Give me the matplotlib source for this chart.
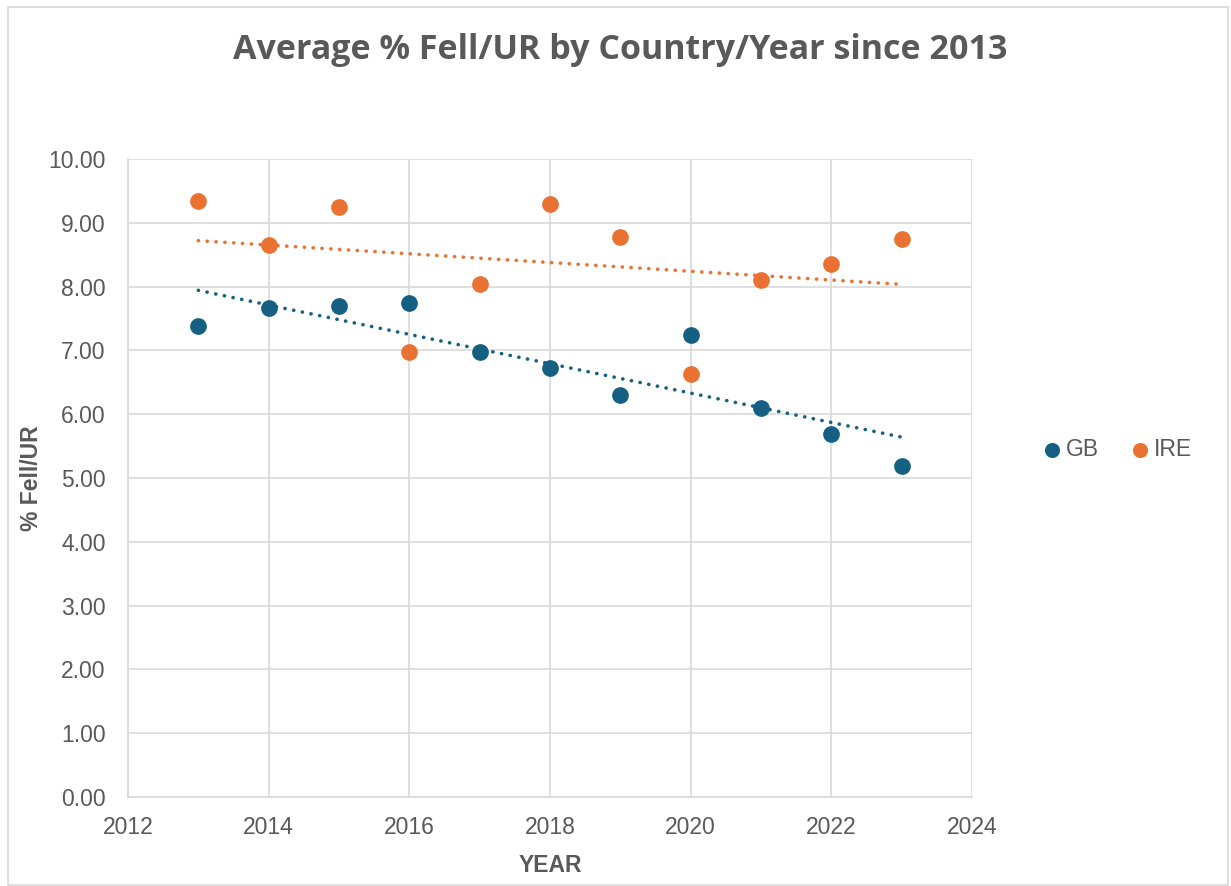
import numpy as np
import matplotlib.pyplot as plt
from matplotlib.patches import Rectangle

years = [2013, 2014, 2015, 2016, 2017, 2018, 2019, 2020, 2021, 2022, 2023]
gb = [7.38, 7.66, 7.70, 7.74, 6.98, 6.72, 6.30, 7.24, 6.10, 5.69, 5.19]
ire = [9.34, 8.65, 9.25, 6.97, 8.04, 9.29, 8.78, 6.63, 8.10, 8.35, 8.75]
y_ticks = np.arange(0, 10.01, 1.0)
x_ticks = np.arange(2012, 2025, 2)

GB_COL = '#156082'
IRE_COL = '#E97132'
TXT = '#595959'
GRID = '#D9D9D9'

plt.rcParams['font.family'] = ['Liberation Sans', 'DejaVu Sans']

fig = plt.figure(figsize=(12.31, 8.86), dpi=100)
fig.patches.append(Rectangle((8 / 1231, 1 / 886), 1220 / 1231, 878 / 886,
                             transform=fig.transFigure, fill=False,
                             edgecolor=GRID, linewidth=1.2))
ax = fig.add_axes([128 / 1231, 89 / 886, 844 / 1231, 638 / 886])

for vals, col, name in [(gb, GB_COL, 'GB'), (ire, IRE_COL, 'IRE')]:
    ax.scatter(years, vals, s=145, color=col, label=name, zorder=3, linewidths=0)
    k, b = np.polyfit(years, vals, 1)
    xs = np.array([years[0], years[-1]])
    ax.plot(xs, k * xs + b, color=col, linewidth=2.6, linestyle=(0, (0.05, 2.4)),
            dash_capstyle='round', zorder=2)

ax.set_xlim(2012, 2024)
ax.set_ylim(0, 10)
ax.set_xticks(x_ticks)
ax.set_yticks(y_ticks)
ax.set_yticklabels([f'{v:.2f}' for v in y_ticks])
ax.grid(True, color=GRID, linewidth=1.2)
ax.set_axisbelow(True)
for s in ax.spines.values():
    s.set_visible(False)
for side in ['left', 'bottom']:
    ax.spines[side].set_visible(True)
    ax.spines[side].set_color(GRID)
    ax.spines[side].set_linewidth(1.2)
ax.tick_params(length=0, labelsize=16.5, colors=TXT)
ax.tick_params(axis='y', pad=16)
ax.tick_params(axis='x', pad=14)

fig.text(550 / 1231, 1 - 866 / 886, 'YEAR', ha='center', va='center',
         fontsize=16.5, fontweight='bold', color=TXT)
fig.text(31 / 1231, 1 - 478 / 886, '% Fell/UR', ha='center', va='center', rotation=90,
         fontsize=16.5, fontweight='bold', color=TXT)

fig.text(620 / 1231, 1 - 50 / 886, 'Average % Fell/UR by Country/Year since 2013',
         ha='center', va='center', fontsize=24.5, fontweight='bold', color=TXT,
         family=['Open Sans', 'DejaVu Sans'])

leg = fig.legend(loc='center left', bbox_to_anchor=(1043 / 1231, 1 - 450 / 886), ncol=2,
                 frameon=False, fontsize=16.5, handlelength=0.8, handletextpad=0.2,
                 columnspacing=1.4, markerscale=0.9, borderaxespad=0, borderpad=0)
for t in leg.get_texts():
    t.set_color(TXT)

fig.savefig('out.png', dpi=100)
